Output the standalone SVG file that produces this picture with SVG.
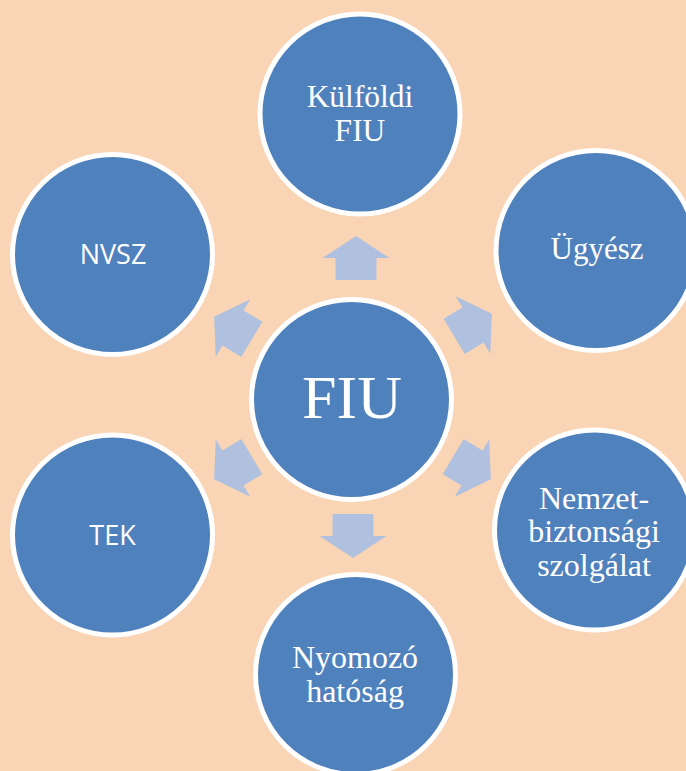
<svg xmlns="http://www.w3.org/2000/svg" width="686" height="771" viewBox="0 0 686 771">
<defs>
<style>
.node circle{fill:#4F81BD;stroke:#FFFFFF;stroke-width:5}
.serif{font-family:"Liberation Serif","Times New Roman",serif;fill:#FFFFFF;text-anchor:middle}
.sans{font-family:"Open Sans","Liberation Sans",sans-serif;fill:#FFFFFF;text-anchor:middle}
.arrow{fill:#AFC1DE}
</style>
<path id="arr" d="M0,-22 L33.5,0 L20.5,0 L20.5,22 L-20.5,22 L-20.5,0 L-33.5,0 Z"/>
</defs>
<rect x="0" y="0" width="686" height="771" fill="#FAD5B5"/>
<g id="connectors">
<use href="#arr" class="arrow" transform="translate(356,258)"/>
<use href="#arr" class="arrow" transform="translate(473,325) rotate(59)"/>
<use href="#arr" class="arrow" transform="translate(472,468) rotate(121)"/>
<use href="#arr" class="arrow" transform="translate(353,536) rotate(180)"/>
<use href="#arr" class="arrow" transform="translate(233,468) rotate(239)"/>
<use href="#arr" class="arrow" transform="translate(233,328) rotate(301)"/>
</g>
<g id="fiu" class="node">
<circle cx="351.5" cy="399.5" r="100"/>
<text class="serif" x="352" y="418" font-size="62">FIU</text>
</g>
<g id="kulfoldi" class="node">
<circle cx="360" cy="114" r="100"/>
<text class="serif" x="360" y="107" font-size="31.5">Külföldi</text>
<text class="serif" x="360" y="140.5" font-size="31.5">FIU</text>
</g>
<g id="ugyesz" class="node">
<circle cx="596" cy="250.5" r="100"/>
<text class="serif" x="597" y="259" font-size="31">Ügyész</text>
</g>
<g id="nemzet" class="node">
<circle cx="594.5" cy="530" r="100"/>
<text class="serif" x="594" y="509" font-size="32">Nemzet-</text>
<text class="serif" x="594" y="542" font-size="32">biztonsági</text>
<text class="serif" x="594" y="576" font-size="32">szolgálat</text>
</g>
<g id="nyomozo" class="node">
<circle cx="355.5" cy="674.5" r="100"/>
<text class="serif" x="355" y="668" font-size="32">Nyomozó</text>
<text class="serif" x="355" y="702" font-size="32">hatóság</text>
</g>
<g id="tek" class="node">
<circle cx="112.5" cy="535" r="100"/>
<text class="sans" x="112.5" y="545" font-size="27">TEK</text>
</g>
<g id="nvsz" class="node">
<circle cx="112.5" cy="254.5" r="100"/>
<text class="sans" x="113" y="264" font-size="27">NVSZ</text>
</g>
</svg>
